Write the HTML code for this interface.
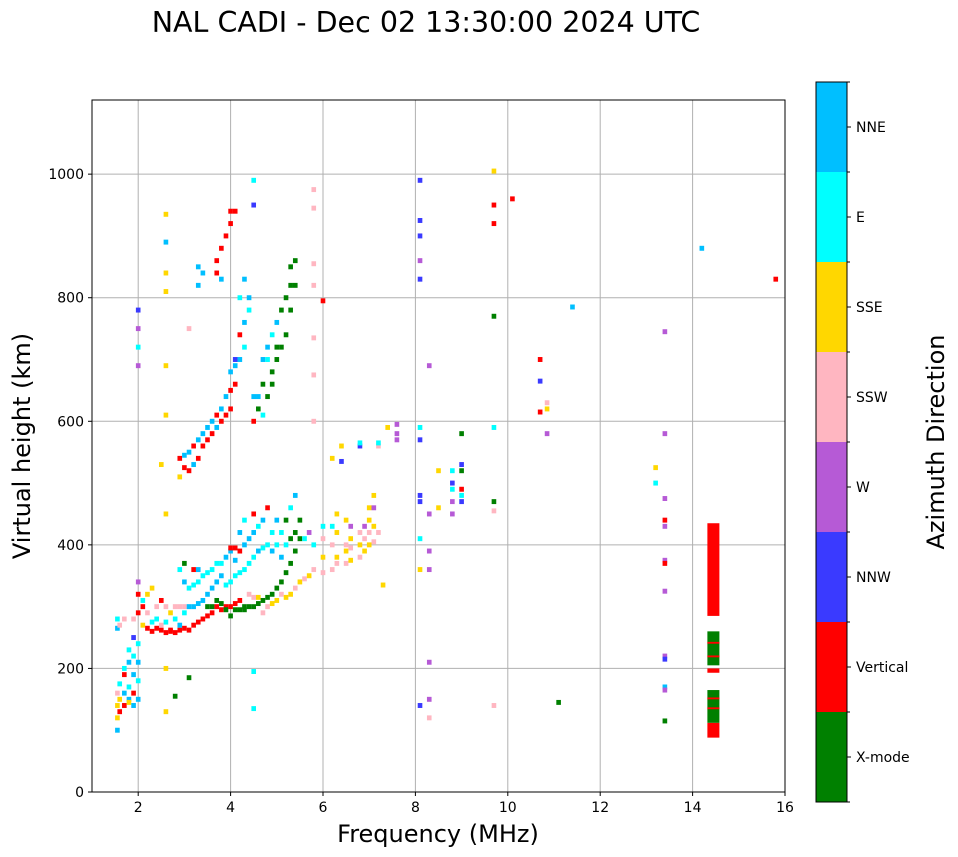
<!DOCTYPE html>
<html><head><meta charset="utf-8">
<style>
body{margin:0;background:#fff;}
svg{display:block;font-family:"DejaVu Sans","Liberation Sans",sans-serif;}
</style></head>
<body>
<svg id="chart" width="958" height="857">
<text x="426" y="32" font-size="28.5" text-anchor="middle">NAL CADI - Dec 02 13:30:00 2024 UTC</text>
<g id="grid"></g>
<g id="marks"></g>
<rect x="92" y="100" width="693" height="692" fill="none" stroke="#000" stroke-width="1"/>
<g id="axes"></g>
<text x="438" y="842" font-size="24" text-anchor="middle">Frequency (MHz)</text>
<text x="30" y="446" font-size="24" text-anchor="middle" transform="rotate(-90 30 446)">Virtual height (km)</text>
<g id="cbar"></g>
<text x="944" y="442" font-size="24" text-anchor="middle" transform="rotate(-90 944 442)">Azimuth Direction</text>
</svg>
<script>
const dirNames=["X-mode","Vertical","NNW","W","SSW","SSE","E","NNE"];
const dirColors=["#008000","#ff0000","#3a3aff","#b65ad6","#ffb6c1","#ffd700","#00ffff","#00bfff"];
const xTicks=[2,4,6,8,10,12,14,16];
const yTicks=[0,200,400,600,800,1000];
const freqs=[];const heights=[];const dirs=[];
const pts=[
[1.55,[[100,7],[120,5],[140,5],[160,4],[265,7],[280,6]]],
[1.6,[[130,1],[150,5],[175,6],[270,4]]],
[1.7,[[140,1],[160,7],[190,1],[200,6],[280,4]]],
[1.8,[[150,7],[170,6],[210,7],[230,6],[145,5]]],
[1.9,[[140,7],[160,1],[190,7],[220,6],[250,2],[280,4]]],
[2.0,[[150,7],[180,6],[210,7],[240,6],[290,1],[320,1],[340,3],[780,2],[750,3],[720,6],[690,3]]],
[2.1,[[270,5],[300,1],[310,6]]],
[2.2,[[265,1],[290,4],[320,5]]],
[2.3,[[260,1],[275,6],[330,5]]],
[2.4,[[265,1],[280,6],[300,4]]],
[2.5,[[262,1],[270,4],[310,1],[530,5]]],
[2.6,[[258,1],[275,6],[300,4],[935,5],[890,7],[840,5],[810,5],[690,5],[610,5],[450,5],[200,5],[130,5]]],
[2.7,[[262,1],[260,1],[290,5]]],
[2.8,[[258,1],[300,4],[280,6],[155,0]]],
[2.9,[[262,1],[270,7],[300,4],[360,6],[510,5],[540,1]]],
[3.0,[[265,1],[290,6],[300,4],[340,7],[370,0],[525,1],[545,7]]],
[3.1,[[262,1],[300,7],[330,6],[520,1],[550,7],[750,4],[185,0]]],
[3.2,[[270,1],[300,7],[335,6],[360,1],[530,7],[560,1]]],
[3.3,[[275,1],[305,7],[340,6],[360,7],[540,1],[570,7],[820,7],[850,7]]],
[3.4,[[280,1],[310,7],[350,6],[560,1],[580,7],[840,7]]],
[3.5,[[285,1],[300,0],[320,7],[355,6],[570,1],[590,7]]],
[3.6,[[290,1],[300,0],[330,7],[360,6],[580,1],[600,7]]],
[3.7,[[300,1],[310,0],[340,7],[370,6],[590,7],[610,1],[840,1],[860,1]]],
[3.8,[[295,1],[305,0],[350,7],[370,6],[600,1],[620,7],[830,7],[880,1]]],
[3.9,[[300,1],[295,0],[335,6],[380,7],[610,1],[640,7],[900,1]]],
[4.0,[[285,0],[300,1],[340,6],[390,7],[395,1],[620,1],[650,1],[680,7],[920,1],[940,1]]],
[4.1,[[295,0],[305,1],[350,6],[375,7],[395,1],[660,1],[690,7],[700,2],[940,1]]],
[4.2,[[295,0],[310,1],[355,6],[390,1],[420,7],[700,7],[740,1],[800,6]]],
[4.3,[[295,0],[300,0],[360,6],[400,7],[440,6],[720,6],[760,7],[830,7]]],
[4.4,[[300,0],[320,4],[370,6],[410,7],[780,6],[800,7]]],
[4.5,[[300,0],[315,4],[380,6],[420,7],[450,1],[600,1],[640,7],[990,6],[950,2],[195,6],[135,6]]],
[4.6,[[305,0],[315,5],[390,7],[430,6],[620,0],[640,7]]],
[4.7,[[310,0],[290,4],[395,6],[440,7],[610,6],[660,0],[700,7]]],
[4.8,[[315,0],[300,4],[400,6],[460,1],[640,0],[700,6],[720,7]]],
[4.9,[[320,0],[305,5],[390,7],[420,6],[660,0],[740,6],[680,0]]],
[5.0,[[330,0],[310,5],[400,6],[440,7],[700,0],[760,7],[720,0]]],
[5.1,[[340,0],[320,4],[380,7],[420,6],[720,0],[780,0]]],
[5.2,[[355,0],[315,5],[400,6],[440,0],[740,0],[800,0]]],
[5.3,[[370,0],[320,5],[410,0],[460,6],[780,0],[820,0],[850,0]]],
[5.4,[[390,0],[330,4],[420,0],[480,7],[820,0],[860,0]]],
[5.5,[[410,0],[340,5],[440,0]]],
[5.6,[[345,4],[410,6]]],
[5.7,[[350,5],[420,3]]],
[5.8,[[360,4],[400,6],[975,4],[945,4],[855,4],[820,4],[735,4],[675,4],[600,4]]],
[6.0,[[355,4],[380,5],[430,6],[410,4],[795,1]]],
[6.2,[[360,4],[400,4],[430,6],[540,5]]],
[6.3,[[380,5],[420,5],[450,5],[370,4]]],
[6.4,[[535,2],[560,5]]],
[6.5,[[370,4],[390,5],[400,4],[440,5]]],
[6.6,[[375,5],[395,4],[410,5],[430,3]]],
[6.8,[[380,4],[400,5],[420,4],[560,2],[565,6]]],
[6.9,[[390,5],[410,4],[430,3]]],
[7.0,[[400,5],[420,4],[440,5],[460,5]]],
[7.1,[[405,4],[430,5],[460,3],[480,5]]],
[7.2,[[420,4],[560,4],[565,6]]],
[7.3,[[335,5]]],
[7.4,[[590,5]]],
[7.6,[[595,3],[580,3],[570,3]]],
[8.1,[[990,2],[925,2],[900,2],[860,3],[830,2],[590,6],[570,2],[480,2],[470,2],[410,6],[360,5],[140,2]]],
[8.3,[[690,3],[450,3],[390,3],[360,3],[210,3],[150,3],[120,4]]],
[8.5,[[520,5],[460,5]]],
[8.8,[[500,2],[490,6],[470,3],[450,3],[520,6]]],
[9.0,[[480,6],[470,2],[580,0],[530,2],[490,1],[520,0]]],
[9.7,[[1005,5],[950,1],[920,1],[770,0],[590,6],[470,0],[455,4],[140,4]]],
[10.1,[[960,1]]],
[10.7,[[700,1],[665,2],[615,1]]],
[10.85,[[630,4],[620,5],[580,3]]],
[11.1,[[145,0]]],
[11.4,[[785,7]]],
[13.2,[[525,5],[500,6]]],
[13.4,[[745,3],[580,3],[475,3],[440,1],[430,3],[375,3],[370,1],[325,3],[220,3],[215,2],[170,7],[165,3],[115,0]]],
[14.2,[[880,7]]],
[15.8,[[830,1]]]
];
pts.forEach(p=>p[1].forEach(q=>{freqs.push(p[0]);heights.push(q[0]);dirs.push(q[1]);}));
const barFreq=14.45;
const barLo=[88,112,134,150,193,205,218,240,285];
const barHi=[112,165,137,153,200,260,221,243,435];
const barDir=[1,0,1,1,1,0,1,1,1];

const NS="http://www.w3.org/2000/svg";
const X0=92,X1=785,Y0=792,Y1=100,FMIN=1,FMAX=16,HMIN=0,HMAX=1120;
const xs=f=>X0+(f-FMIN)/(FMAX-FMIN)*(X1-X0);
const ys=h=>Y0-(h-HMIN)/(HMAX-HMIN)*(Y0-Y1);
function mk(tag,attrs,parent){const e=document.createElementNS(NS,tag);for(const k in attrs)e.setAttribute(k,attrs[k]);parent.appendChild(e);return e;}
const grid=document.getElementById('grid'),axes=document.getElementById('axes'),marks=document.getElementById('marks'),cbar=document.getElementById('cbar');
xTicks.forEach(t=>{const x=xs(t);
 const l=mk('line',{x1:x,x2:x,y1:Y1,y2:Y0,stroke:'#b0b0b0','stroke-width':1},grid);
 
 mk('line',{x1:x,x2:x,y1:Y0,y2:Y0+4,stroke:'#000'},axes);
 const tx=mk('text',{x:x,y:Y0+20,'font-size':14,'text-anchor':'middle'},axes);tx.textContent=t;
 });
yTicks.forEach(t=>{const y=ys(t);
 const l=mk('line',{x1:X0,x2:X1,y1:y,y2:y,stroke:'#b0b0b0','stroke-width':1},grid);
 
 mk('line',{x1:X0-4,x2:X0,y1:y,y2:y,stroke:'#000'},axes);
 const tx=mk('text',{x:X0-8,y:y+5,'font-size':14,'text-anchor':'end'},axes);tx.textContent=t;
 });
const cw=0.1,ch=8;
for(let i=0;i<freqs.length;i++){
 const x=xs(freqs[i]-cw/2),w=xs(freqs[i]+cw/2)-x,y=ys(heights[i]+ch/2),h=ys(heights[i]-ch/2)-y;
 const r=mk('rect',{x:x,y:y,width:w,height:h,fill:dirColors[dirs[i]]},marks);
 }
for(let i=0;i<barLo.length;i++){
 const x=xs(barFreq-0.13),w=xs(barFreq+0.13)-x,y=ys(barHi[i]),h=ys(barLo[i])-y;
 const r=mk('rect',{x:x,y:y,width:w,height:h,fill:dirColors[barDir[i]]},marks);
 }
const CX=816,CW=31,CT=82,CB=802,seg=(CB-CT)/dirNames.length;
for(let i=0;i<dirNames.length;i++){
 const y=CB-(i+1)*seg;
 const r=mk('rect',{x:CX,y:y,width:CW,height:seg,fill:dirColors[i]},cbar);
 
 mk('line',{x1:CX+CW,x2:CX+CW+4,y1:y+seg/2,y2:y+seg/2,stroke:'#000'},cbar);
 mk('line',{x1:CX+CW,x2:CX+CW+3,y1:y,y2:y,stroke:'#000'},cbar);
 const tx=mk('text',{x:CX+CW+9,y:y+seg/2+5,'font-size':14},cbar);tx.textContent=dirNames[i];
 }
mk('line',{x1:CX+CW,x2:CX+CW+3,y1:CB,y2:CB,stroke:'#000'},cbar);
mk('rect',{x:CX,y:CT,width:CW,height:CB-CT,fill:'none',stroke:'#000'},cbar);
</script>
</body></html>
